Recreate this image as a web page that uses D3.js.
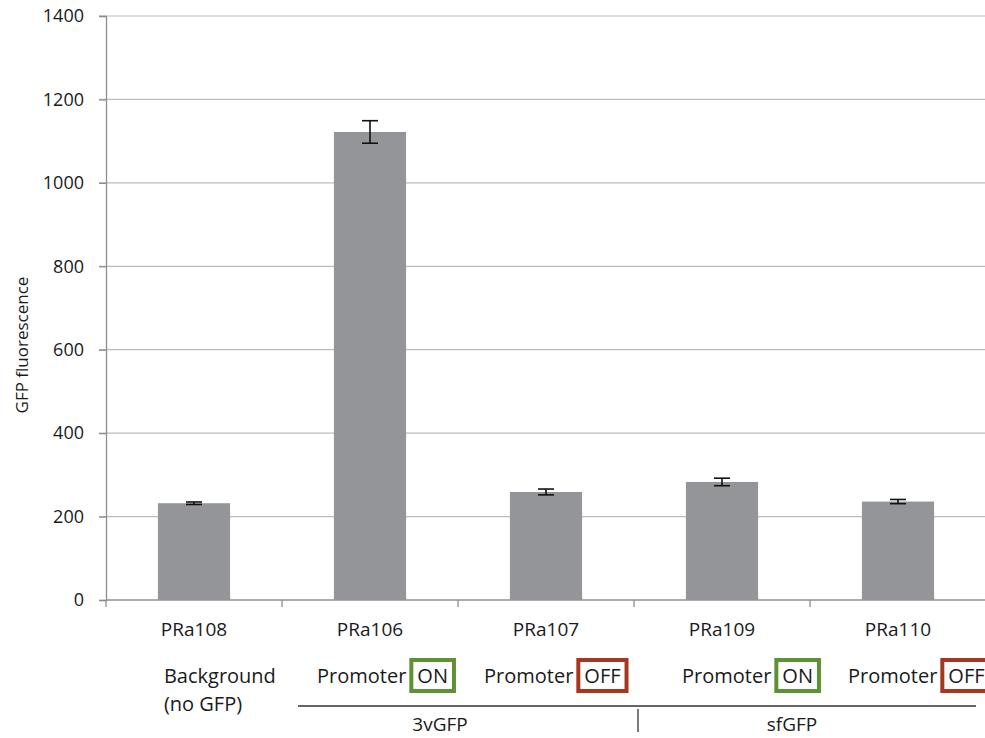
<!DOCTYPE html>
<html>
<head>
<meta charset="utf-8">
<script src="https://cdn.jsdelivr.net/npm/d3@7"></script>
<style>
  body { margin: 0; background: #fff; }
  svg text { font-family: "Open Sans", "Noto Sans", sans-serif; fill: #1a1a1a; }
</style>
</head>
<body>
<div id="chart"></div>
<script>
const strains = ["PRa108", "PRa106", "PRa107", "PRa109", "PRa110"];
const fluorescence = [232, 1122, 259, 283, 236];
const errors = [3, 27, 7, 9, 5];
const promoterState = [null, "ON", "OFF", "ON", "OFF"];
const groups = [{name: "3vGFP", from: 1, to: 2}, {name: "sfGFP", from: 3, to: 4}];
const yTicks = [0, 200, 400, 600, 800, 1000, 1200, 1400];

// hand-placed offsets of the "Promoter" labels from the bar centres
const promoterShift = [0, -53, -62, -40, -50];

const svg = d3.select("#chart").append("svg")
    .attr("width", 985)
    .attr("height", 738);

const margin = {top: 16, right: 0, bottom: 138, left: 106};
const height = 738 - margin.top - margin.bottom;

const x = d3.scaleBand()
    .domain(strains)
    .range([margin.left, margin.left + 880])
    .paddingInner(0.59)
    .paddingOuter(0.295);

const y = d3.scaleLinear()
    .domain([0, 1400])
    .range([margin.top + height, margin.top]);

// gridlines
svg.append("g")
    .selectAll("line")
    .data(yTicks.slice(1))
    .join("line")
    .attr("x1", margin.left - 7)
    .attr("x2", 985)
    .attr("y1", d => y(d))
    .attr("y2", d => y(d))
    .attr("stroke", "#bcbcbc")
    .attr("stroke-width", 1.2);

// y axis
const yAxis = svg.append("g")
    .attr("transform", `translate(${margin.left}, 0)`)
    .call(d3.axisLeft(y).tickValues(yTicks).tickFormat(d3.format("d")).tickSize(7).tickPadding(15));
yAxis.select(".domain").attr("stroke", "#8f8f8f").attr("stroke-width", 1.3);
yAxis.selectAll(".tick line").attr("stroke", "#8f8f8f").attr("stroke-width", 1.3);
yAxis.selectAll(".tick text")
    .attr("font-size", 18)
    .attr("font-family", "'Open Sans', sans-serif")
    .attr("fill", "#1a1a1a");

// x axis
const step = x.step();
svg.append("line")
    .attr("x1", margin.left).attr("x2", 985)
    .attr("y1", y(0)).attr("y2", y(0))
    .attr("stroke", "#8f8f8f").attr("stroke-width", 1.3);
svg.append("g")
    .selectAll("line")
    .data(strains)
    .join("line")
    .attr("x1", d => x(d) - x.paddingOuter() * step)
    .attr("x2", d => x(d) - x.paddingOuter() * step)
    .attr("y1", y(0))
    .attr("y2", y(0) + 7)
    .attr("stroke", "#8f8f8f").attr("stroke-width", 1.3);

// bars
svg.append("g")
    .selectAll("rect")
    .data(strains)
    .join("rect")
    .attr("x", d => x(d))
    .attr("width", x.bandwidth())
    .attr("y", (d, i) => y(fluorescence[i]))
    .attr("height", (d, i) => y(0) - y(fluorescence[i]))
    .attr("fill", "#939598");

// error bars
const eb = svg.append("g").attr("stroke", "#111").attr("stroke-width", 1.6);
strains.forEach((s, i) => {
    const cx = x(s) + x.bandwidth() / 2;
    const hi = y(fluorescence[i] + errors[i]), lo = y(fluorescence[i] - errors[i]);
    eb.append("line").attr("x1", cx).attr("x2", cx).attr("y1", hi).attr("y2", lo);
    eb.append("line").attr("x1", cx - 8).attr("x2", cx + 8).attr("y1", hi).attr("y2", hi);
    eb.append("line").attr("x1", cx - 8).attr("x2", cx + 8).attr("y1", lo).attr("y2", lo);
});

// category labels
svg.append("g")
    .selectAll("text")
    .data(strains)
    .join("text")
    .attr("x", d => x(d) + x.bandwidth() / 2)
    .attr("y", 636)
    .attr("text-anchor", "middle")
    .attr("font-size", 19)
    .text(d => d);

// second row: background / promoter state
svg.append("text")
    .attr("x", x(strains[0]) + 6)
    .attr("y", 683)
    .attr("font-size", 20)
    .text("Background");
svg.append("text")
    .attr("x", x(strains[0]) + 6)
    .attr("y", 711)
    .attr("font-size", 20)
    .text("(no GFP)");

strains.forEach((s, i) => {
    const st = promoterState[i];
    if (!st) return;
    const left = x(s) + x.bandwidth() / 2 + promoterShift[i];
    const g = svg.append("g");
    const t1 = g.append("text").attr("x", left).attr("y", 683).attr("font-size", 20).text("Promoter");
    const w1 = t1.node().getComputedTextLength();
    const t2 = g.append("text").attr("y", 683).attr("font-size", 20).text(st);
    const w2 = t2.node().getComputedTextLength();
    const rx = left + w1 + 5;
    t2.attr("x", rx + 6);
    g.insert("rect", "text")
        .attr("x", rx)
        .attr("y", 660)
        .attr("width", w2 + 12)
        .attr("height", 31)
        .attr("fill", "none")
        .attr("stroke", st === "ON" ? "#5e9133" : "#a5361f")
        .attr("stroke-width", 4);
});

// group brackets
svg.append("line")
    .attr("x1", 298).attr("x2", 976)
    .attr("y1", 706).attr("y2", 706)
    .attr("stroke", "#333").attr("stroke-width", 1.3);
svg.append("line")
    .attr("x1", 638).attr("x2", 638)
    .attr("y1", 709).attr("y2", 732)
    .attr("stroke", "#333").attr("stroke-width", 1.3);
svg.append("g")
    .selectAll("text")
    .data(groups)
    .join("text")
    .attr("x", d => (x(strains[d.from]) + x(strains[d.to]) + x.bandwidth()) / 2 - 18)
    .attr("y", 731)
    .attr("text-anchor", "middle")
    .attr("font-size", 19)
    .text(d => d.name);

// y label
svg.append("text")
    .attr("transform", `translate(28, 345) rotate(-90)`)
    .attr("text-anchor", "middle")
    .attr("font-size", 17)
    .text("GFP fluorescence");
</script>
</body>
</html>
